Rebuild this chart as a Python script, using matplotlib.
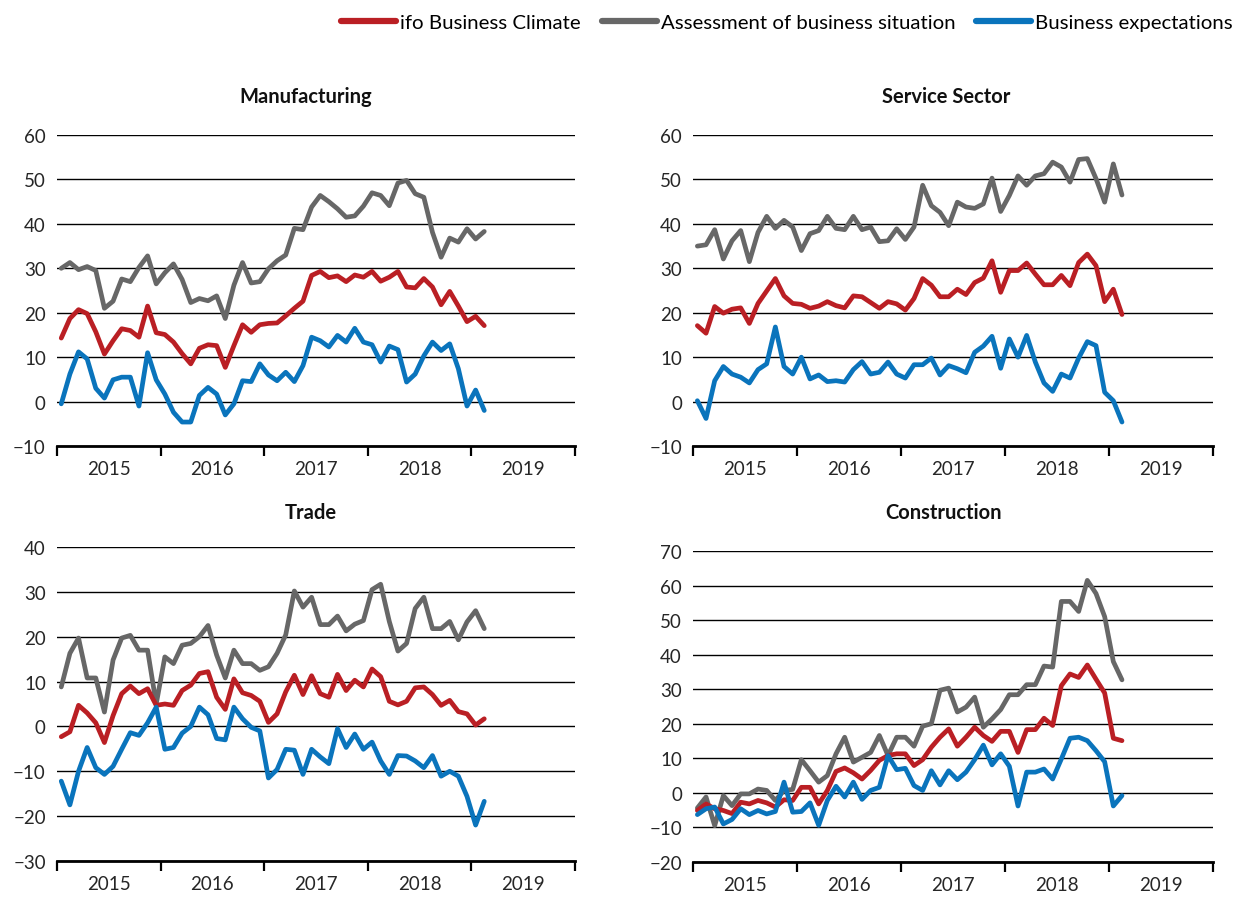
"""
ifo business climate by sector, monthly balances Jan 2015 - Feb 2019.
Four panels, one per sector, each with climate, situation and expectations.
"""
import matplotlib
matplotlib.use("Agg")
import matplotlib.pyplot as plt
import numpy as np

plt.rcParams["font.family"] = ["Lato", "DejaVu Sans"]

# months since Jan 2015 (Jan 2015 .. Feb 2019)
n_months = 50
years = ["2015", "2016", "2017", "2018", "2019"]

series_names = ["ifo Business Climate", "Assessment of business situation", "Business expectations"]
series_colors = ["#BA1F24", "#676767", "#0A74BC"]

# Manufacturing
manu_climate = [14.3, 18.7, 20.7, 19.8, 15.7, 10.7, 13.7, 16.4, 16.0, 14.5,
                21.5, 15.5, 15.1, 13.4, 10.8, 8.5, 12.0, 12.8, 12.6, 7.7,
                12.6, 17.3, 15.6, 17.3, 17.6, 17.7, 19.3, 21.0, 22.6, 28.4,
                29.3, 27.9, 28.3, 27.0, 28.5, 28.0, 29.3, 27.1, 28.0, 29.3,
                25.8, 25.6, 27.7, 25.8, 21.8, 24.8, 21.5, 18.0, 19.2, 17.1]
manu_situation = [30.0, 31.3, 29.7, 30.4, 29.5, 21.0, 22.6, 27.6, 27.0, 30.2,
                  32.8, 26.5, 29.0, 31.0, 27.5, 22.3, 23.2, 22.7, 23.8, 18.7,
                  26.2, 31.3, 26.7, 27.0, 29.9, 31.7, 33.0, 39.0, 38.7, 43.8,
                  46.4, 45.0, 43.4, 41.5, 41.8, 44.0, 47.0, 46.4, 44.1, 49.2,
                  49.8, 46.8, 46.0, 38.1, 32.5, 36.8, 35.9, 38.9, 36.6, 38.3]
manu_expect = [-0.5, 6.2, 11.2, 9.6, 3.0, 0.8, 4.9, 5.5, 5.5, -1.0,
               11.0, 4.9, 1.7, -2.4, -4.6, -4.6, 1.4, 3.2, 1.7, -3.0,
               -0.5, 4.7, 4.5, 8.5, 6.0, 4.7, 6.6, 4.5, 8.1, 14.5,
               13.7, 12.3, 14.9, 13.4, 16.5, 13.4, 12.8, 8.9, 12.5, 11.7,
               4.4, 6.2, 10.3, 13.4, 11.5, 13.0, 7.4, -1.0, 2.6, -2.0]

# Service sector
serv_climate = [17.1, 15.4, 21.4, 19.9, 20.8, 21.1, 17.6, 22.1, 24.9, 27.7,
                23.8, 22.1, 21.9, 21.0, 21.5, 22.5, 21.6, 21.1, 23.8, 23.6,
                22.3, 21.0, 22.5, 22.0, 20.6, 23.2, 27.7, 26.2, 23.6, 23.6,
                25.3, 24.1, 26.8, 27.8, 31.7, 24.6, 29.5, 29.5, 31.2, 28.7,
                26.3, 26.3, 28.4, 26.1, 31.3, 33.2, 30.6, 22.5, 25.3, 19.6]
serv_situation = [35.0, 35.3, 38.7, 32.1, 36.2, 38.5, 31.5, 38.1, 41.7, 39.0,
                  40.8, 39.3, 34.0, 37.8, 38.5, 41.7, 39.0, 38.7, 41.7, 38.7,
                  39.3, 36.0, 36.2, 38.9, 36.5, 39.3, 48.7, 44.1, 42.6, 39.6,
                  44.9, 43.8, 43.5, 44.5, 50.3, 42.8, 46.4, 50.8, 48.7, 50.8,
                  51.3, 53.9, 52.8, 49.4, 54.5, 54.7, 50.2, 44.9, 53.5, 46.5]
serv_expect = [0.2, -3.8, 4.7, 7.9, 6.2, 5.5, 4.2, 7.2, 8.5, 16.8,
               7.9, 6.2, 10.0, 5.1, 6.0, 4.5, 4.7, 4.4, 7.2, 9.0,
               6.2, 6.6, 8.9, 6.2, 5.3, 8.3, 8.3, 9.8, 6.0, 8.1,
               7.4, 6.5, 11.1, 12.5, 14.7, 7.5, 14.1, 10.0, 14.9, 8.9,
               4.2, 2.3, 6.2, 5.3, 9.8, 13.5, 12.6, 2.1, 0.2, -4.6]

# Trade
trade_climate = [-2.3, -1.2, 4.7, 3.0, 0.8, -3.6, 2.4, 7.3, 9.0, 7.3,
                 8.4, 4.7, 5.0, 4.7, 8.0, 9.2, 11.8, 12.2, 6.5, 3.8,
                 10.6, 7.5, 6.9, 5.6, 0.9, 2.8, 7.7, 11.4, 7.1, 11.3,
                 7.3, 6.5, 11.6, 8.0, 10.3, 8.8, 12.8, 11.1, 5.6, 4.8,
                 5.6, 8.6, 8.8, 7.1, 4.7, 5.8, 3.3, 2.8, 0.3, 1.7]
trade_situation = [8.8, 16.3, 19.7, 10.8, 10.8, 3.2, 14.8, 19.7, 20.3, 17.0,
                   17.0, 5.0, 15.5, 14.0, 18.1, 18.5, 20.0, 22.5, 15.9, 10.8,
                   17.0, 14.0, 14.0, 12.5, 13.3, 16.3, 20.4, 30.2, 26.6, 28.8,
                   22.7, 22.7, 24.6, 21.3, 22.8, 23.6, 30.5, 31.7, 23.4, 16.8,
                   18.5, 26.3, 28.8, 21.8, 21.8, 23.4, 19.3, 23.3, 25.8, 21.8]
trade_expect = [-12.2, -17.5, -10.0, -4.7, -9.2, -10.7, -8.9, -5.1, -1.4, -2.0,
                0.8, 4.3, -5.1, -4.7, -1.5, 0.0, 4.3, 2.6, -2.7, -3.0,
                4.3, 1.7, -0.2, -1.0, -11.5, -9.6, -5.1, -5.3, -10.7, -5.1,
                -6.8, -8.3, -0.5, -4.7, -1.7, -5.1, -3.5, -7.7, -10.7, -6.5,
                -6.6, -7.7, -9.2, -6.5, -11.1, -10.0, -11.1, -15.6, -22.0, -16.7]

# Construction
cons_climate = [-5.1, -3.2, -4.6, -5.1, -6.0, -2.7, -3.2, -2.2, -2.9, -4.1,
                -2.0, -2.2, 1.6, 1.6, -3.2, 0.7, 6.2, 7.2, 5.8, 4.0,
                6.5, 9.4, 10.8, 11.3, 11.3, 7.9, 9.6, 13.2, 16.1, 18.5,
                13.5, 16.1, 19.0, 16.6, 14.9, 17.8, 17.8, 11.7, 18.3, 18.3,
                21.6, 19.5, 31.0, 34.4, 33.4, 37.0, 32.9, 28.9, 15.8, 15.1]
cons_situation = [-4.4, -1.2, -9.5, -0.8, -3.7, -0.3, -0.3, 1.1, 0.7, -2.2,
                  0.7, 1.0, 9.6, 6.4, 3.1, 5.0, 11.3, 16.1, 8.9, 10.3,
                  11.7, 16.6, 10.8, 16.1, 16.1, 13.5, 19.3, 20.0, 29.7, 30.3,
                  23.4, 24.8, 27.7, 19.0, 21.4, 24.1, 28.4, 28.4, 31.3, 31.3,
                  36.7, 36.4, 55.4, 55.4, 52.5, 61.5, 57.7, 51.0, 38.0, 32.7]
cons_expect = [-6.3, -4.6, -4.1, -9.0, -7.7, -4.6, -6.3, -5.1, -6.1, -5.4,
               3.1, -5.6, -5.4, -2.9, -9.4, -2.2, 1.9, -1.2, 3.1, -1.9,
               0.7, 1.6, 10.8, 6.7, 7.1, 2.1, 0.7, 6.4, 2.3, 6.4,
               3.8, 6.0, 9.6, 13.8, 8.1, 11.3, 7.7, -3.8, 6.0, 6.0,
               6.9, 4.0, 9.8, 15.8, 16.1, 15.1, 12.2, 9.0, -3.8, -0.8]


def draw_panel(ax, title, title_x, title_y, data, ylim, ystep):
    x = np.arange(n_months) + 0.5
    # draw situation first so climate and expectations sit on top
    for idx in [1, 0, 2]:
        ax.plot(x, data[idx], color=series_colors[idx], lw=3.4,
                solid_joinstyle="round", solid_capstyle="round", zorder=3)

    ax.set_xlim(0, 60)
    ax.set_ylim(*ylim)
    ax.set_yticks(np.arange(ylim[0], ylim[1] + 1, ystep))
    ax.yaxis.grid(True, color="black", lw=1.0)
    ax.tick_params(axis="y", length=0, pad=8, labelsize=13.5, labelcolor="#262626")

    ax.set_xticks(np.arange(0, 61, 12))
    ax.set_xticks(np.arange(6, 60, 12), minor=True)
    ax.set_xticklabels([])
    ax.set_xticklabels(years, minor=True)
    ax.tick_params(axis="x", which="major", direction="out", length=7, width=1.6)
    ax.tick_params(axis="x", which="minor", length=0, pad=10, labelsize=13.5,
                   labelcolor="#262626")

    for side in ["top", "right", "left"]:
        ax.spines[side].set_visible(False)
    ax.spines["bottom"].set_linewidth(2.0)
    ax.spines["bottom"].set_zorder(4)

    ax.figure.text(title_x, title_y, title, ha="center", va="center",
                   fontsize=14.5, fontweight="bold", color="#111111")


fig = plt.figure(figsize=(12.46, 9.04), dpi=100)

ax_manu = fig.add_axes([0.0457, 0.5055, 0.4157, 0.344])
ax_serv = fig.add_axes([0.5562, 0.5055, 0.4173, 0.344])
ax_trade = fig.add_axes([0.0457, 0.0465, 0.4157, 0.3473])
ax_cons = fig.add_axes([0.5562, 0.0454, 0.4173, 0.344])

draw_panel(ax_manu, "Manufacturing", 306 / 1246, 1 - 97 / 904,
           [manu_climate, manu_situation, manu_expect], (-10, 60), 10)
draw_panel(ax_serv, "Service Sector", 946 / 1246, 1 - 97 / 904,
           [serv_climate, serv_situation, serv_expect], (-10, 60), 10)
draw_panel(ax_trade, "Trade", 311 / 1246, 1 - 513 / 904,
           [trade_climate, trade_situation, trade_expect], (-30, 40), 10)
draw_panel(ax_cons, "Construction", 943 / 1246, 1 - 513 / 904,
           [cons_climate, cons_situation, cons_expect], (-20, 70), 10)

handles = [plt.Line2D([], [], color=c, lw=4.5, solid_capstyle="round") for c in series_colors]
fig.legend(handles, series_names, loc="upper right", bbox_to_anchor=(1.004, 1.004),
           ncol=3, frameon=False, fontsize=14.7, handlelength=2.7,
           handletextpad=0.2, columnspacing=1.0)

fig.savefig("out.png", dpi=100)
